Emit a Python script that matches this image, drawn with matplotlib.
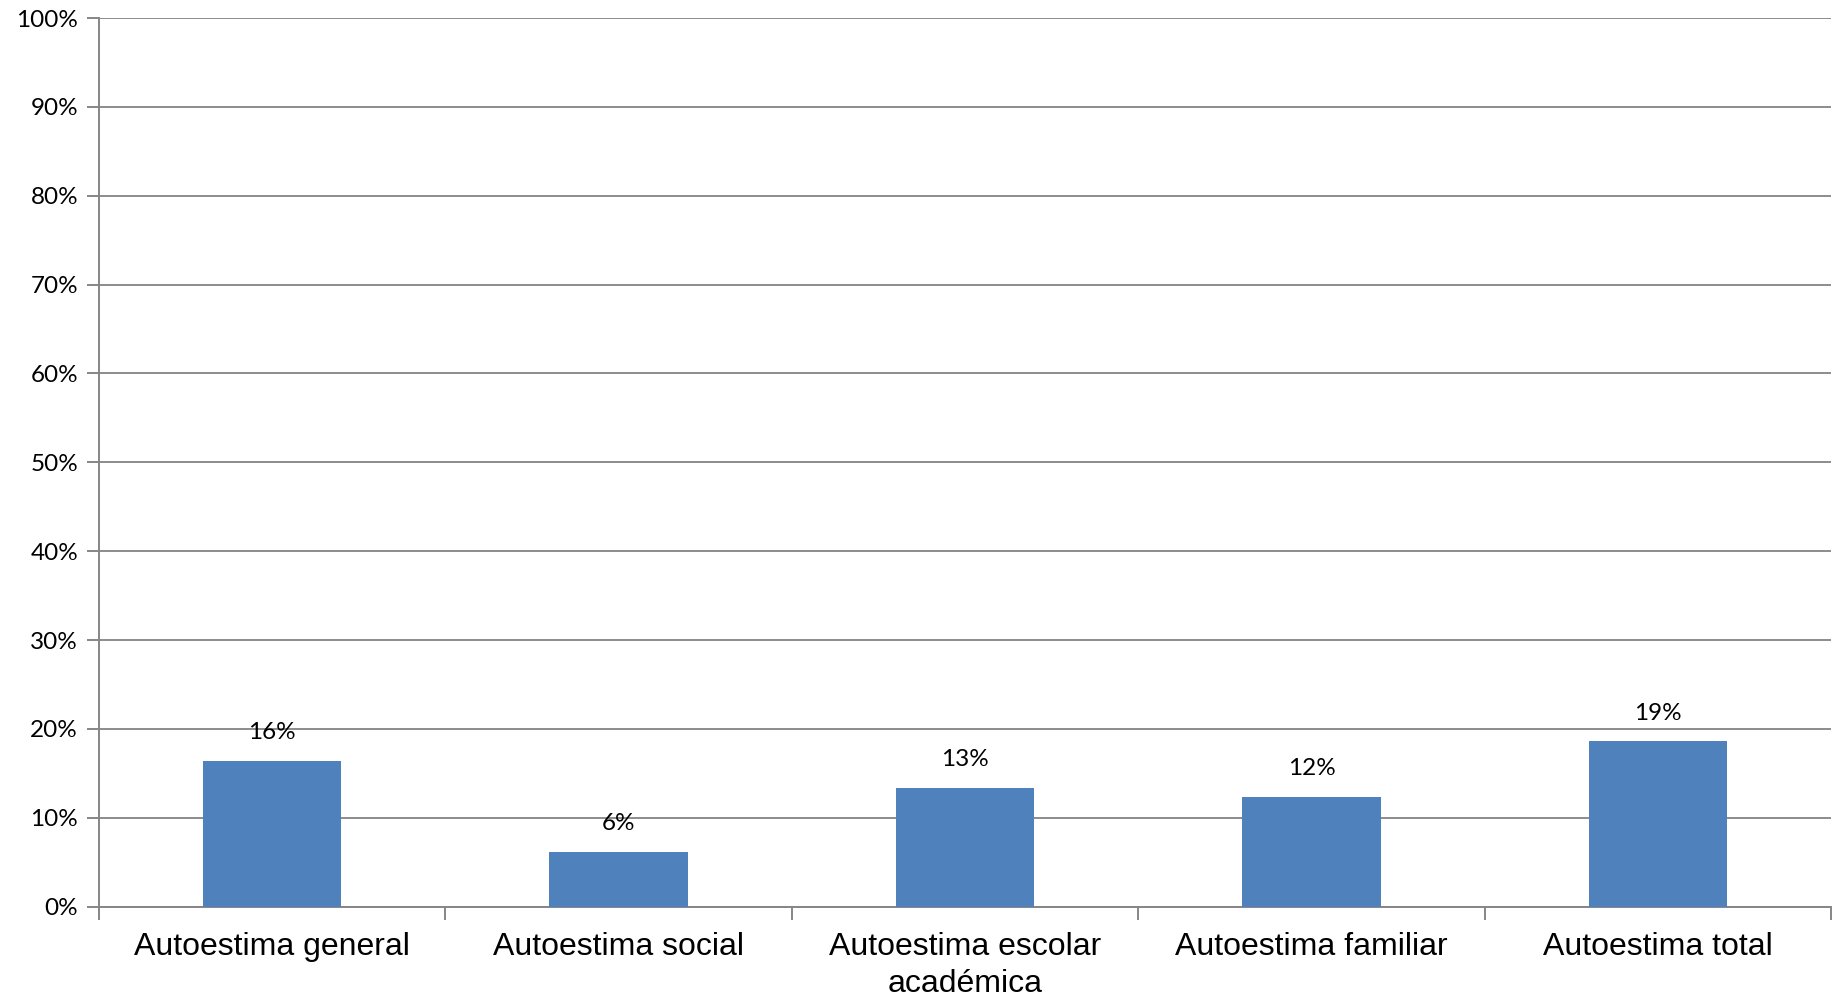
import matplotlib.pyplot as plt
import numpy as np
from matplotlib.ticker import MultipleLocator, FuncFormatter

categories = ["Autoestima general", "Autoestima social", "Autoestima escolar\nacadémica",
              "Autoestima familiar", "Autoestima total"]
values = [16.45, 6.2, 13.4, 12.4, 18.6]  # percent

bar_color = "#4F81BD"
axis_gray = "#868686"

fig = plt.figure(figsize=(18.39, 10.01), dpi=100)
ax = fig.add_axes([0.0538, 0.0942, 0.9419, 0.8878])

x = np.arange(len(categories))
ax.bar(x, values, width=0.4, color=bar_color, zorder=3)

for xi, v in zip(x, values):
    ax.annotate(f"{round(v)}%", (xi, v), xytext=(0, 28), textcoords="offset pixels",
                ha="center", va="center", fontsize=17.5, family="Lato", color="black")

ax.set_xlim(-0.5, len(categories) - 0.5)
ax.set_ylim(0, 100)
ax.yaxis.set_major_locator(MultipleLocator(10))
ax.yaxis.set_major_formatter(FuncFormatter(lambda v, p: f"{v:.0f}%"))
ax.grid(axis="y", color="#8c8c8c", linewidth=1.4, zorder=0)

# category ticks sit between the groups, labels at the centres
ax.set_xticks(np.arange(len(categories) + 1) - 0.5)
ax.set_xticklabels([])
ax.set_xticks(x, minor=True)
ax.set_xticklabels(categories, minor=True, fontsize=23, family="Liberation Sans",
                   linespacing=1.3)
ax.tick_params(axis="x", which="minor", length=0, pad=18)
ax.tick_params(axis="x", which="major", length=9, width=1.4, color=axis_gray)
ax.tick_params(axis="y", length=9, width=1.4, color=axis_gray, pad=6)
for lbl in ax.get_yticklabels():
    lbl.set_family("Lato")
    lbl.set_fontsize(17.5)

for s in ["top", "right"]:
    ax.spines[s].set_visible(False)
for s in ["left", "bottom"]:
    ax.spines[s].set_color(axis_gray)
    ax.spines[s].set_linewidth(1.4)

fig.savefig("out.png", dpi=100)
